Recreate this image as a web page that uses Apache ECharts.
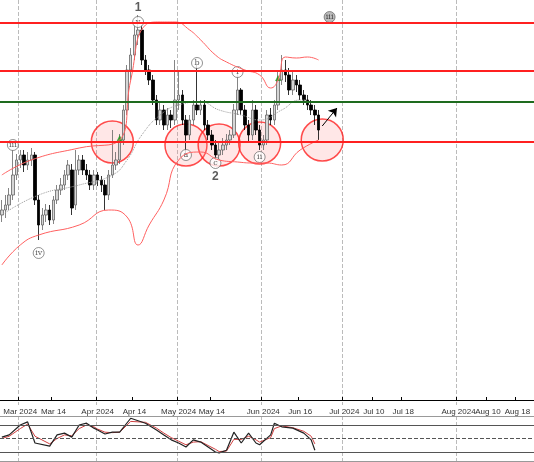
<!DOCTYPE html>
<html>
<head>
<meta charset="utf-8">
<script src="https://cdn.jsdelivr.net/npm/echarts@6/dist/echarts.min.js"></script>
<style>html,body{margin:0;padding:0;background:#fff}#main{width:534px;height:462px}</style>
</head>
<body>
<div id="main"></div>
<script>
// 蜡烛数据 [open, close, low, high]
var candles = [
 [185,190,178,200],[190,195,182,205],[195,205,190,212],[205,225,200,250],[225,240,220,246],
 [240,245,232,250],[245,235,228,250],[235,240,230,248],[240,245,234,252],[245,200,195,248],
 [200,175,160,205],[175,185,170,192],[185,190,178,196],[190,180,175,195],[180,200,176,204],
 [200,210,196,215],[210,215,205,222],[215,225,210,230],[225,235,220,240],[230,192,185,236],
 [195,230,190,250],[230,240,225,245],[240,230,225,245],[230,225,220,236],[225,215,210,230],
 [215,225,210,230],[225,220,214,228],[220,215,208,224],[215,205,190,220],[205,225,200,230],
 [225,235,222,270],[235,240,230,248],[240,260,236,266],[260,290,255,295],[290,330,285,335],
 [330,345,320,352],[345,365,340,375],[365,370,355,385],[370,340,335,375],[340,330,325,345],
 [330,320,315,335],[320,300,295,325],[300,280,275,305],[280,290,275,298],[290,275,270,295],
 [275,285,270,292],[285,280,272,290],[280,300,275,340],[300,305,290,330],[305,280,275,310],
 [280,265,245,285],[265,280,260,285],[280,295,275,300],[295,290,285,335],[290,295,285,300],
 [295,275,270,300],[275,265,260,280],[265,255,250,270],[255,245,240,260],[245,250,240,258],
 [250,255,245,262],[255,260,250,266],[260,265,255,270],[265,290,262,296],[290,310,285,328],
 [310,290,285,312],[290,275,270,295],[275,265,258,280],[265,290,260,300],[290,270,265,295],
 [270,255,250,275],[255,260,250,265],[260,285,255,290],[285,280,275,292],[280,295,275,300],
 [295,320,290,330],[320,330,315,345],[330,325,318,340],[325,310,305,332],[310,320,305,330],
 [320,315,308,325],[315,305,300,320],[305,300,295,310],[300,295,290,305],[295,290,285,300],
 [290,285,275,295],[285,270,260,290]
];
var bbUpper = [[0,225],[8,240],[21,252],[32,260],[35,320],[39,375],[43,378],[47,378],[51,370],[54,360],[58,345],[61,338],[66,330],[70,325],[73,312],[75,320],[77,343],[80,342],[83,343],[86,340]];
var bbLower = [[0,135],[5,155],[10,165],[21,175],[29,190],[34,183],[37,155],[40,175],[44,200],[48,240],[54,248],[59,240],[64,238],[68,237],[72,237],[76,235],[81,250],[86,260]];
var bbMiddle = [[0,185],[10,205],[21,215],[30,225],[34,240],[38,265],[43,285],[48,295],[54,298],[59,290],[65,285],[70,280],[76,290],[81,300],[83,300]];
var stochK = [[0,53],[2,58],[5,80],[7,87],[9,40],[13,33],[15,58],[17,62],[19,53],[21,80],[23,84],[25,73],[26,69],[28,60],[30,64],[32,64],[35,95],[39,84],[42,69],[44,58],[46,47],[48,40],[50,31],[52,47],[54,42],[58,20],[59,18],[61,24],[63,64],[65,40],[67,62],[69,40],[70,36],[73,58],[74,84],[76,76],[79,73],[82,62],[84,47],[85,24]];
var stochD = [[0,50],[2,55],[5,72],[7,82],[9,55],[13,38],[15,50],[17,58],[19,56],[21,72],[23,80],[25,76],[26,71],[28,64],[30,63],[32,64],[35,88],[39,86],[42,73],[44,62],[46,52],[48,44],[50,36],[52,42],[54,43],[58,26],[59,21],[61,22],[63,48],[65,48],[67,55],[69,47],[70,42],[73,52],[74,72],[76,78],[79,74],[82,66],[84,55],[85,38]];
var hLevels = [377, 329, 258];
var greenLevel = 298;
var tickIdx = [5, 14, 26, 36, 48, 57, 71, 81, 93, 101, 109, 124, 132, 140];
var tickLabels = ['Mar 2024','Mar 14','Apr 2024','Apr 14','May 2024','May 14','Jun 2024','Jun 16','Jul 2024','Jul 10','Jul 18','Aug 2024','Aug 10','Aug 18'];
var majorIdx = [5, 26, 48, 71, 93, 124];
var waveLabels = [['v',37,378],['iii',3,255],['iv',10,147],['a',50,245],['b',53,337],['c',58,237],['i',64,328],['ii',70,243]];
var circles = [[30,258],[50,255],[59,255],[70,257],[87,260]];

var N = 145;
var cats = [];
for (var i = 0; i < N; i++) cats.push(i);
function labelOf(i){ var k = tickIdx.indexOf(Number(i)); return k >= 0 ? tickLabels[k] : ''; }

var myChart = echarts.init(document.getElementById('main'));
myChart.setOption({
  animation: false,
  grid: [
    {left: 0, right: 0, top: 0, height: 405},
    {left: 0, right: 0, top: 416, height: 45}
  ],
  xAxis: [
    {type: 'category', data: cats, boundaryGap: true, gridIndex: 0,
     axisLine: {lineStyle: {color: '#000'}},
     axisTick: {show: true, interval: function(i){ return tickIdx.indexOf(i) >= 0; }, inside: true, length: 3},
     axisLabel: {interval: function(i){ return tickIdx.indexOf(i) >= 0; }, formatter: labelOf, fontSize: 8, color: '#333', margin: 3, fontFamily: 'Liberation Sans Narrow, Liberation Sans'},
     splitLine: {show: true, interval: function(i){ return majorIdx.indexOf(i) >= 0; }, lineStyle: {type: 'dashed', color: '#bbb'}}},
    {type: 'category', data: cats, gridIndex: 1,
     axisLine: {show: false}, axisTick: {show: false}, axisLabel: {show: false},
     splitLine: {show: true, interval: function(i){ return majorIdx.indexOf(i) >= 0; }, lineStyle: {type: 'dashed', color: '#bbb'}}}
  ],
  yAxis: [
    {type: 'value', min: -5, max: 400, gridIndex: 0, show: false, splitLine: {show: false}},
    {type: 'value', min: 0, max: 100, gridIndex: 1, show: false, splitLine: {show: false}}
  ],
  series: [
    {type: 'candlestick', data: candles, barWidth: 3,
     itemStyle: {color: '#d6d6d6', color0: '#000', borderColor: '#666', borderColor0: '#000', borderWidth: 0.8},
     markLine: {silent: true, symbol: 'none', label: {show: false},
       data: hLevels.map(function(v){ return {yAxis: v, lineStyle: {color: '#ff2020', width: 2, type: 'solid'}}; })
         .concat([{yAxis: greenLevel, lineStyle: {color: '#1e6b1e', width: 2, type: 'solid'}},
                  [{coord: [87, 274], symbol: 'none'}, {coord: [91, 292], symbol: 'arrow', symbolSize: 8, lineStyle: {color: '#000', width: 1, type: 'solid'}}]])
     }},
    {type: 'line', data: bbUpper, smooth: true, symbol: 'none', lineStyle: {color: '#ff6060', width: 1}},
    {type: 'line', data: bbLower, smooth: true, symbol: 'none', lineStyle: {color: '#ff6060', width: 1}},
    {type: 'line', data: bbMiddle, smooth: true, symbol: 'none', lineStyle: {color: '#999', width: 1, type: 'dotted'}},
    {type: 'scatter', data: circles, symbolSize: 42, z: 1,
     itemStyle: {color: 'rgba(255,120,120,0.22)', borderColor: '#ff2020', borderWidth: 1.5}},
    {type: 'scatter', data: [[32,262],[75,322]], symbol: 'triangle', symbolSize: 6, itemStyle: {color: '#1a9a1a'}},
    {type: 'scatter', data: waveLabels.map(function(w){ return {value: [w[1], w[2]], name: w[0]}; }),
     symbolSize: 11, itemStyle: {color: '#fff', borderColor: '#555', borderWidth: 0.8},
     label: {show: true, formatter: '{b}', position: 'inside', fontSize: 8, color: '#333', fontFamily: 'DejaVu Serif'}},
    {type: 'scatter', data: [{value: [89, 383], name: 'iii'}], symbolSize: 11,
     itemStyle: {color: '#aaa', borderColor: '#555', borderWidth: 0.8},
     label: {show: true, formatter: '{b}', position: 'inside', fontSize: 8, color: '#222', fontFamily: 'DejaVu Serif'}},
    {type: 'scatter', data: [{value: [37, 392], name: '1'}, {value: [58, 223], name: '2'}], symbolSize: 1,
     itemStyle: {color: 'transparent'},
     label: {show: true, formatter: '{b}', position: 'inside', fontSize: 12, fontWeight: 'bold', color: '#333', fontFamily: 'Liberation Sans'}},
    {type: 'line', xAxisIndex: 1, yAxisIndex: 1, data: stochD, symbol: 'none', lineStyle: {color: '#d04040', width: 1},
     markLine: {silent: true, symbol: 'none', label: {show: false},
       data: [{yAxis: 100, lineStyle: {color: '#999', type: 'solid', width: 1}},
              {yAxis: 80, lineStyle: {color: '#555', type: 'solid', width: 1}},
              {yAxis: 50, lineStyle: {color: '#555', type: 'dashed', width: 1}},
              {yAxis: 20, lineStyle: {color: '#555', type: 'solid', width: 1}},
              {yAxis: 0, lineStyle: {color: '#999', type: 'solid', width: 1}}]}},
    {type: 'line', xAxisIndex: 1, yAxisIndex: 1, data: stochK, symbol: 'none', lineStyle: {color: '#222', width: 1.2}}
  ]
});
</script>
</body>
</html>
